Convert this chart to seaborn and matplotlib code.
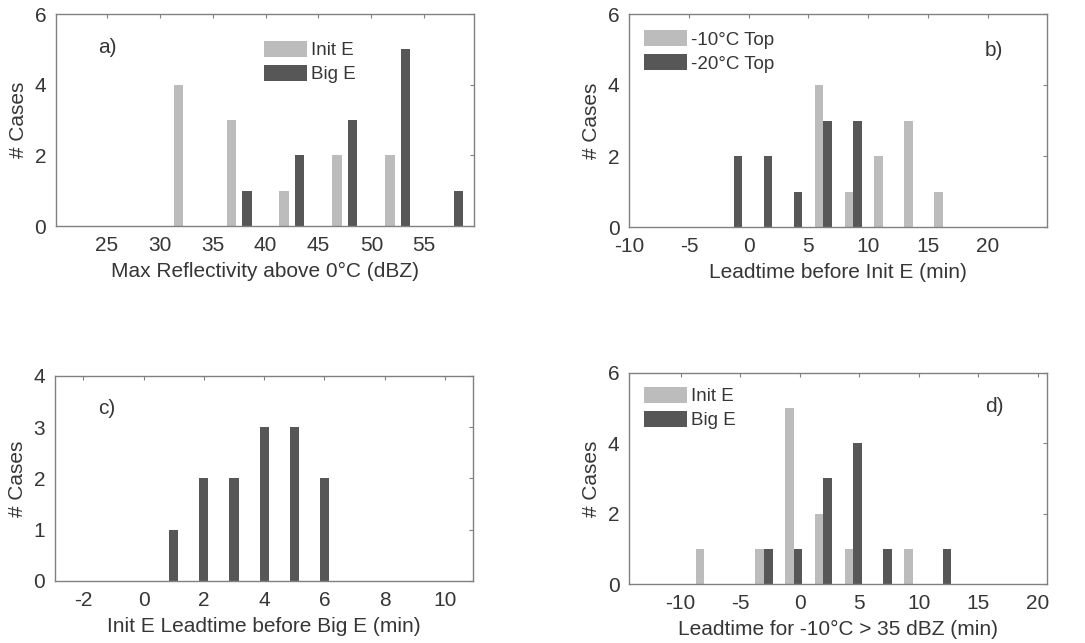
import pandas as pd
import matplotlib
matplotlib.use("Agg")
import matplotlib.pyplot as plt
import seaborn as sns

# a) max reflectivity above 0C
refl_bins = [32.5, 37.5, 42.5, 47.5, 52.5, 57.5]
refl_init = [4, 3, 1, 2, 2, 0]
refl_big = [0, 1, 2, 3, 5, 1]

# b) leadtime before Init E
lead_bins = [-1.25, 1.25, 3.75, 6.25, 8.75, 11.25, 13.75, 16.25]
lead_m10 = [0, 0, 0, 4, 1, 2, 3, 1]
lead_m20 = [2, 2, 1, 3, 3, 0, 0, 0]

# c) Init E leadtime before Big E
init_lead = [1, 2, 3, 4, 5, 6]
init_count = [1, 2, 2, 3, 3, 2]

# d) leadtime for -10C > 35 dBZ
dbz_bins = [-8.0, -5.5, -3.0, -0.5, 2.0, 4.5, 7.0, 9.5, 12.0]
dbz_init = [1, 0, 1, 5, 2, 1, 0, 1, 0]
dbz_big = [0, 0, 1, 1, 3, 4, 1, 0, 1]

LIGHT = "#bcbcbc"
DARK = "#575757"
TXT = "#363636"
SPINE = "#808080"

sns.set_style("white")
plt.rcParams["font.family"] = ["Liberation Sans", "DejaVu Sans"]
plt.rcParams["font.size"] = 14
plt.rcParams["axes.unicode_minus"] = False


def long_df(bins, s1, s2, n1, n2):
    return pd.DataFrame({
        "x": list(bins) * 2,
        "y": list(s1) + list(s2),
        "grp": [n1] * len(bins) + [n2] * len(bins),
    })


def style_axes(ax, xlim, ylim, xticks, yticks, xlabel, tag, tag_xy):
    ax.set_xlim(*xlim)
    ax.set_ylim(*ylim)
    ax.set_xticks(xticks)
    ax.set_yticks(yticks)
    ax.set_xlabel(xlabel, color=TXT, fontsize=15, labelpad=5)
    ax.set_ylabel("# Cases", color=TXT, fontsize=15, labelpad=5)
    for s in ax.spines.values():
        s.set_visible(True)
        s.set_color(SPINE)
        s.set_linewidth(1.0)
    ax.tick_params(direction="in", length=3, width=0.8, color=SPINE,
                   top=True, right=True, labelcolor=TXT, labelsize=15, pad=7)
    ax.text(tag_xy[0], tag_xy[1], tag, transform=ax.transAxes, fontsize=15,
            color=TXT, ha="left", va="center")


def make_legend(ax, anchor):
    ax.legend(loc="upper left", bbox_to_anchor=anchor, frameon=False,
              fontsize=13.5, handlelength=2.3, handleheight=0.95,
              handletextpad=0.2, labelspacing=0.3, borderpad=0,
              borderaxespad=0, labelcolor=TXT)


fig = plt.figure(figsize=(10.85, 6.43), dpi=100)
W, H = 1085, 643


def axes_px(l, t, r, b):
    return fig.add_axes([l / W, 1 - b / H, (r - l) / W, (b - t) / H])


# panel a
ax = axes_px(56, 14, 474, 226)
df = long_df(refl_bins, refl_init, refl_big, "Init E", "Big E")
sns.barplot(data=df, x="x", y="y", hue="grp", native_scale=True,
            palette=[LIGHT, DARK], width=0.584, gap=0.38, errorbar=None,
            linewidth=0, ax=ax)
style_axes(ax, (20.2, 59.7), (0, 6), [25, 30, 35, 40, 45, 50, 55], [0, 2, 4, 6],
           "Max Reflectivity above 0\u00b0C (dBZ)", "a)", (0.10, 0.842))
make_legend(ax, (0.498, 0.874))

# panel b
ax = axes_px(629.3, 14, 1047.3, 227)
df = long_df(lead_bins, lead_m10, lead_m20, "-10\u00b0C Top", "-20\u00b0C Top")
sns.barplot(data=df, x="x", y="y", hue="grp", native_scale=True,
            palette=[LIGHT, DARK], width=0.58, gap=0, errorbar=None,
            linewidth=0, ax=ax)
style_axes(ax, (-10, 25), (0, 6), [-10, -5, 0, 5, 10, 15, 20], [0, 2, 4, 6],
           "Leadtime before Init E (min)", "b)", (0.851, 0.829))
make_legend(ax, (0.035, 0.925))

# panel c
ax = axes_px(55, 375.7, 473.3, 581)
sns.barplot(x=init_lead, y=init_count, native_scale=True, color=DARK,
            saturation=1, width=0.3, errorbar=None, linewidth=0, ax=ax)
style_axes(ax, (-2.94, 10.94), (0, 4), [-2, 0, 2, 4, 6, 8, 10], [0, 1, 2, 3, 4],
           "Init E Leadtime before Big E (min)", "c)", (0.103, 0.838))

# panel d
ax = axes_px(629.3, 372.7, 1047.3, 584)
df = long_df(dbz_bins, dbz_init, dbz_big, "Init E", "Big E")
sns.barplot(data=df, x="x", y="y", hue="grp", native_scale=True,
            palette=[LIGHT, DARK], width=0.58, gap=0, errorbar=None,
            linewidth=0, ax=ax)
style_axes(ax, (-14.3, 20.8), (0, 6), [-10, -5, 0, 5, 10, 15, 20], [0, 2, 4, 6],
           "Leadtime for -10\u00b0C > 35 dBZ (min)", "d)", (0.851, 0.841))
make_legend(ax, (0.035, 0.934))

fig.savefig("out.png", dpi=100)
